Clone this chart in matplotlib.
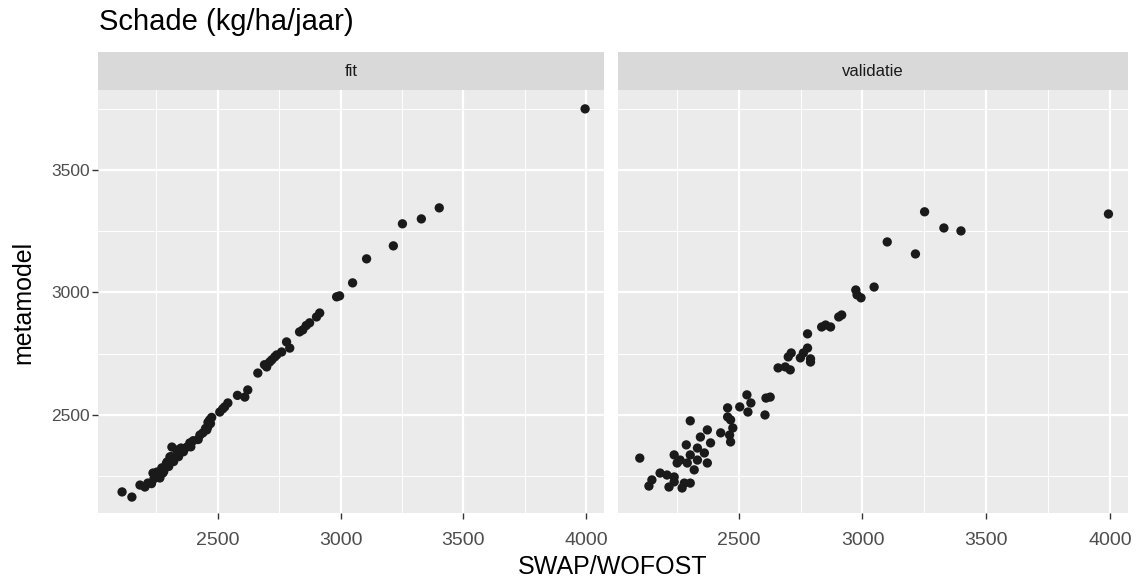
import matplotlib.pyplot as plt
from matplotlib.ticker import FixedLocator

plt.rcParams['font.family'] = ['Liberation Sans', 'DejaVu Sans']

# fit panel
fit_x = [3996, 3402, 3329, 3252, 3215, 3106, 3049, 2996, 2984, 2915, 2902, 2874,
         2846, 2833, 2780, 2793, 2760, 2732, 2711, 2699, 2663, 2622, 2610, 2541,
         2528, 2508, 2467, 2459, 2455, 2439, 2427, 2386, 2374, 2313, 2333, 2346,
         2305, 2293, 2272, 2252, 2236, 2276, 2264, 2215, 2203, 2183, 2110, 2150,
         2470, 2460, 2450, 2420, 2400, 2390, 2360, 2340, 2320, 2300, 2310, 2280,
         2260, 2240, 2230, 2290, 2350, 2720, 2740, 2860, 2690, 2580, 2520, 2475]
fit_y = [3749, 3345, 3300, 3280, 3190, 3137, 3039, 2986, 2982, 2916, 2900, 2876,
         2847, 2839, 2798, 2773, 2757, 2737, 2716, 2696, 2671, 2602, 2573, 2549,
         2533, 2512, 2480, 2451, 2439, 2427, 2418, 2386, 2369, 2369, 2357, 2345,
         2329, 2308, 2284, 2267, 2263, 2263, 2243, 2222, 2206, 2214, 2186, 2165,
         2465, 2470, 2445, 2400, 2395, 2370, 2350, 2330, 2310, 2290, 2330, 2270,
         2255, 2240, 2220, 2300, 2365, 2725, 2745, 2865, 2705, 2580, 2525, 2490]

# validatie panel
val_x = [3251, 3994, 3329, 3398, 3100, 3214, 3047, 2973, 2994, 2978, 2916, 2904,
         2851, 2835, 2871, 2778, 2778, 2761, 2712, 2700, 2749, 2790, 2659, 2708,
         2688, 2790, 2533, 2610, 2627, 2549, 2504, 2455, 2537, 2606, 2455, 2467,
         2476, 2427, 2463, 2467, 2304, 2373, 2345, 2386, 2288, 2333, 2361, 2304,
         2239, 2263, 2333, 2373, 2292, 2251, 2320, 2100, 2182, 2210, 2239, 2149,
         2137, 2239, 2218, 2280, 2304, 2271]
val_y = [3329, 3320, 3263, 3251, 3206, 3157, 3022, 3010, 2978, 2990, 2908, 2900,
         2867, 2859, 2859, 2831, 2773, 2753, 2753, 2737, 2733, 2729, 2692, 2684,
         2696, 2716, 2582, 2569, 2573, 2549, 2533, 2529, 2512, 2500, 2492, 2480,
         2447, 2427, 2418, 2390, 2476, 2439, 2410, 2386, 2378, 2365, 2345, 2337,
         2337, 2316, 2316, 2304, 2304, 2304, 2276, 2324, 2263, 2255, 2247, 2235,
         2210, 2227, 2206, 2222, 2222, 2202]

panels = [("fit", fit_x, fit_y), ("validatie", val_x, val_y)]
x_ticks = [2500, 3000, 3500, 4000]
y_ticks = [2500, 3000, 3500]

W, H = 1138, 578
fig = plt.figure(figsize=(W / 100, H / 100), dpi=100)

def box(x0, y0, x1, y1):
    # pixel box -> figure fraction
    return [x0 / W, 1 - y1 / H, (x1 - x0) / W, (y1 - y0) / H]

lefts = [(98, 604), (618, 1128)]
for i, (name, xs, ys) in enumerate(panels):
    l, r = lefts[i]
    ax = fig.add_axes(box(l, 90, r, 513))
    ax.set_facecolor('#EBEBEB')
    for s in ax.spines.values():
        s.set_visible(False)
    ax.set_xlim(2012, 4073)
    ax.set_ylim(2100, 3826)
    ax.xaxis.set_major_locator(FixedLocator(x_ticks))
    ax.yaxis.set_major_locator(FixedLocator(y_ticks))
    ax.xaxis.set_minor_locator(FixedLocator([2250, 2750, 3250, 3750]))
    ax.yaxis.set_minor_locator(FixedLocator([2250, 2750, 3250, 3750]))
    ax.grid(which='major', color='white', linewidth=1.6)
    ax.grid(which='minor', color='white', linewidth=0.7)
    ax.set_axisbelow(True)
    ax.tick_params(which='major', length=4, width=1, color='#333333',
                   labelcolor='#4D4D4D')
    ax.tick_params(axis='x', which='major', labelsize=14, pad=9.5)
    ax.tick_params(axis='y', which='major', labelsize=12.5, pad=2)
    ax.tick_params(which='minor', length=0)
    if i == 1:
        ax.tick_params(axis='y', which='both', left=False, labelleft=False)
    ax.scatter(xs, ys, s=45, color='#1A1A1A', edgecolors='none', zorder=3)

    strip = fig.add_axes(box(l, 52, r, 90))
    strip.set_facecolor('#D9D9D9')
    strip.set_xticks([])
    strip.set_yticks([])
    for s in strip.spines.values():
        s.set_visible(False)
    strip.text(0.5, 0.5, name, ha='center', va='center', fontsize=12,
               color='#1A1A1A', transform=strip.transAxes)

fig.text(99 / W, 1 - 30 / H, "Schade (kg/ha/jaar)", fontsize=21,
         ha='left', va='baseline', color='black')
fig.text(613 / W, 1 - 574 / H, "SWAP/WOFOST", fontsize=18,
         ha='center', va='baseline', color='black')
fig.text(23 / W, 1 - 302 / H, "metamodel", fontsize=18, rotation=90,
         ha='center', va='center', color='black')

fig.savefig("out.png", dpi=100)
